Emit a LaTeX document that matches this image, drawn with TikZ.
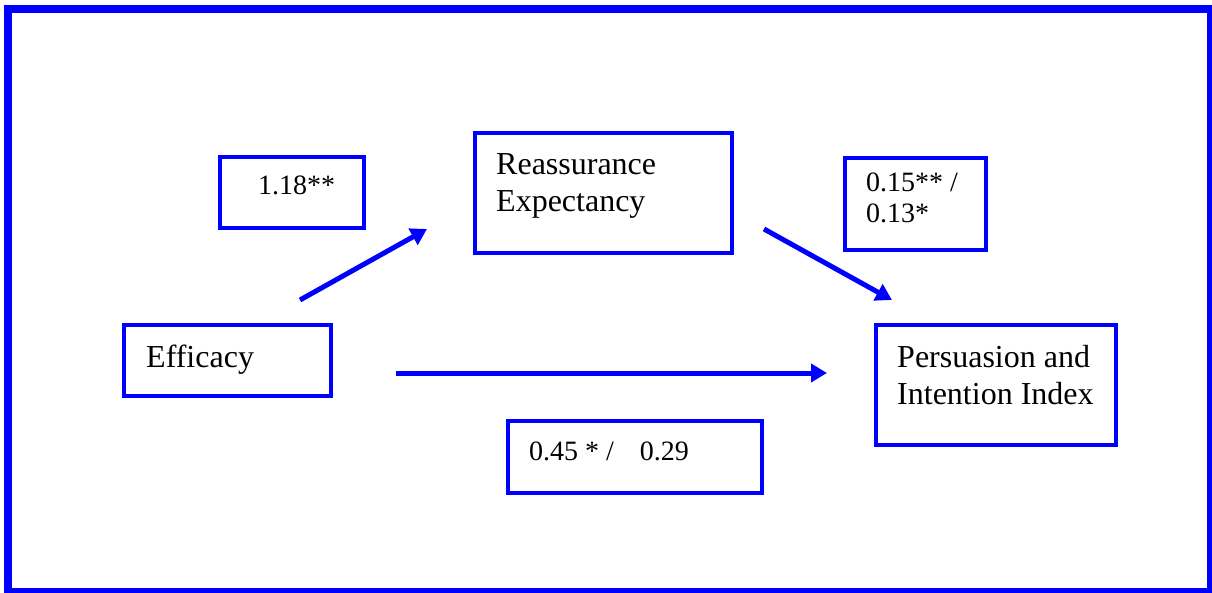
\documentclass[tikz,border=0pt]{standalone}
\usepackage{fontspec}
\setmainfont{Liberation Serif}
\usetikzlibrary{arrows.meta}
\begin{document}
\begin{tikzpicture}[x=1pt,y=-1pt,
  frame/.style={draw=blue, line width=8pt},
  box/.style={draw=blue, line width=4pt, inner sep=0pt, rectangle},
  lbl/.style={inner sep=0pt, anchor=base west, align=left, font=\fontsize{32}{37}\selectfont},
  num/.style={inner sep=0pt, anchor=base west, align=left, font=\fontsize{28}{31}\selectfont},
  arr/.style={draw=blue, line width=5pt, -{Triangle[length=16pt,width=18pt]}}]
\useasboundingbox (0,0) rectangle (1212,593);
\draw[frame] (8,9) rectangle (1211,592);
% boxes
\node[box, minimum width=207pt, minimum height=71pt] (effbox) at (227.5,360.5) {};
\node[box, minimum width=254pt, minimum height=72pt] (dirbox) at (635,457) {};
\node[box, minimum width=144pt, minimum height=71pt] (abox) at (292,192.5) {};
\node[box, minimum width=257pt, minimum height=120pt] (reabox) at (603.5,193) {};
\node[box, minimum width=141pt, minimum height=92pt] (bbox) at (915.5,204) {};
\node[box, minimum width=240pt, minimum height=120pt] (perbox) at (996,385) {};
% texts (base anchor = baseline of last line)
\node[num] (atext) at (258,195) {1.18**};
\node[lbl] (reatext) at (496,212) {Reassurance\\Expectancy};
\node[num] (btext) at (866,223) {0.15** /\\0.13*};
\node[lbl] (efftext) at (146,367) {Efficacy};
\node[lbl] (pertext) at (897,404) {Persuasion and\\Intention Index};
\node[num] (dirtext) at (529,460) {0.45 * /\hspace{26pt}0.29};
% arrows
\coordinate (a1s) at (300,300);
\coordinate (a1e) at (427,229);
\coordinate (a2s) at (764,229);
\coordinate (a2e) at (892,300);
\coordinate (a3s) at (396,373);
\coordinate (a3e) at (827,373);
\draw[arr] (a1s) -- (a1e);
\draw[arr] (a2s) -- (a2e);
\draw[arr] (a3s) -- (a3e);
\end{tikzpicture}
\end{document}
